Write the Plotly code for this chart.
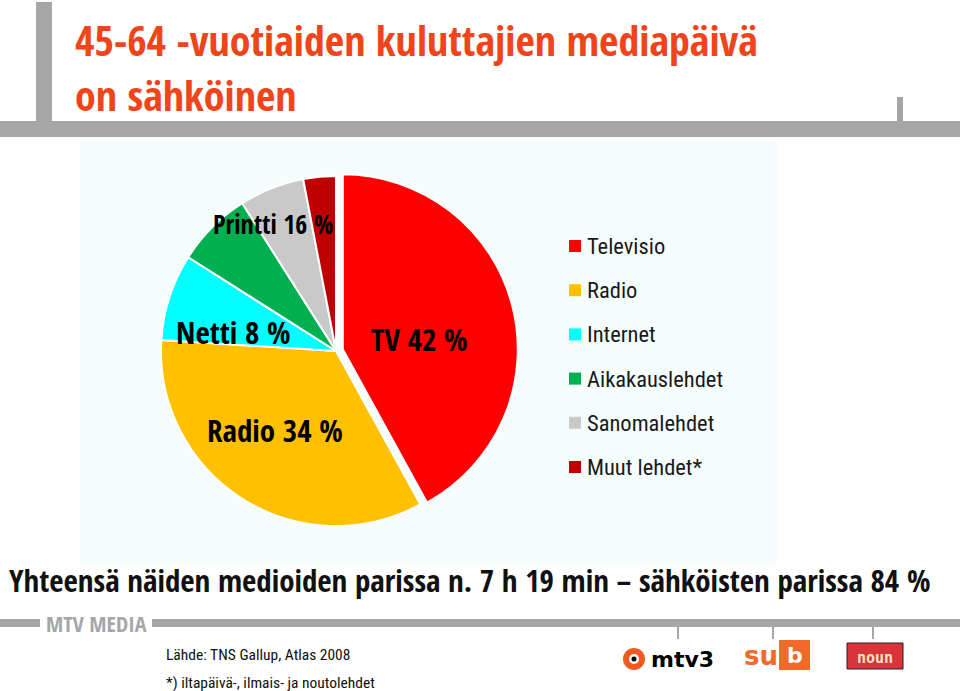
import plotly.graph_objects as go

# ---- data ----
categories = ["Televisio", "Radio", "Internet", "Aikakauslehdet", "Sanomalehdet", "Muut lehdet*"]
shares = [42, 34, 8, 7, 6, 3]
colors = ["#ff0000", "#ffc000", "#00ffff", "#00b050", "#c9c9c9", "#c00000"]
pulls = [0.04, 0, 0, 0, 0, 0]

slice_labels = ["TV 42 %", "Radio 34 %", "Netti 8 %", "Printti 16 %"]

title_lines = ["45-64 -vuotiaiden kuluttajien mediapäivä", "on sähköinen"]
summary_text = "Yhteensä näiden medioiden parissa n. 7 h 19 min – sähköisten parissa 84 %"
source_lines = ["Lähde: TNS Gallup, Atlas 2008", "*) iltapäivä-, ilmais- ja noutolehdet"]

W, H = 960, 691
BOLDC = "Open Sans Condensed, Roboto Condensed, sans-serif"
REGC = "Roboto Condensed, sans-serif"


def px(x):
    return x / W


def py(y):
    return 1 - y / H


# pie geometry (pixels)
cx, cy, r = 336, 351, 182

fig = go.Figure()
fig.add_trace(go.Pie(
    labels=categories,
    values=shares,
    marker=dict(colors=colors, line=dict(color="white", width=2)),
    pull=pulls,
    sort=False,
    direction="clockwise",
    rotation=0,
    textinfo="none",
    hoverinfo="label+percent",
    showlegend=False,
    domain=dict(x=[px(cx - r), px(cx + r)], y=[py(cy + r), py(cy - r)]),
))

shapes = []
annotations = []

# background panel
shapes.append(dict(type="rect", xref="paper", yref="paper", layer="below",
                   x0=px(80), x1=px(777), y0=py(565), y1=py(140),
                   fillcolor="#f6fdfd", line=dict(width=0)))

GRAY = "#a6a6a6"
# top frame bars
shapes.append(dict(type="rect", xref="paper", yref="paper", x0=px(36), x1=px(52), y0=py(128), y1=py(2),
                   fillcolor=GRAY, line=dict(width=0)))
shapes.append(dict(type="rect", xref="paper", yref="paper", x0=0, x1=1, y0=py(137), y1=py(121),
                   fillcolor=GRAY, line=dict(width=0)))
shapes.append(dict(type="rect", xref="paper", yref="paper", x0=px(897), x1=px(903), y0=py(121), y1=py(97),
                   fillcolor=GRAY, line=dict(width=0)))
# bottom frame line
shapes.append(dict(type="rect", xref="paper", yref="paper", x0=0, x1=px(40), y0=py(627), y1=py(619),
                   fillcolor=GRAY, line=dict(width=0)))
shapes.append(dict(type="rect", xref="paper", yref="paper", x0=px(152), x1=1, y0=py(627), y1=py(619),
                   fillcolor=GRAY, line=dict(width=0)))
for tx in [678, 773, 873]:
    shapes.append(dict(type="line", xref="paper", yref="paper", x0=px(tx), x1=px(tx), y0=py(627), y1=py(639),
                       line=dict(color=GRAY, width=2)))

# title (two lines in one text)
annotations.append(dict(text="<b>" + "<br>".join(title_lines) + "</b>", xref="paper", yref="paper",
                        x=px(73), y=py(67), xanchor="left", yanchor="middle", align="left", showarrow=False,
                        font=dict(family=BOLDC, size=42, color="#f0441a")))

# slice labels
label_pos = [(419, 339, 31), (275, 430, 31), (233, 332, 31), (273, 224, 26)]
for t, (lx, ly, fs) in zip(slice_labels, label_pos):
    annotations.append(dict(text="<b>" + t + "</b>", xref="paper", yref="paper", x=px(lx), y=py(ly),
                            xanchor="center", yanchor="middle", showarrow=False,
                            font=dict(family=BOLDC, size=fs, color="black")))

# legend (manual)
for i, (lab, col) in enumerate(zip(categories, colors)):
    yc = 246 + i * 44.2
    shapes.append(dict(type="rect", xref="paper", yref="paper", x0=px(569), x1=px(581),
                       y0=py(yc + 6), y1=py(yc - 6), fillcolor=col, line=dict(width=0)))
    annotations.append(dict(text=lab, xref="paper", yref="paper", x=px(585), y=py(yc),
                            xanchor="left", yanchor="middle", showarrow=False,
                            font=dict(family=REGC, size=22.5, color="#1a1a1a")))

# summary line
annotations.append(dict(text="<b>" + summary_text + "</b>", xref="paper", yref="paper", x=px(7), y=py(580),
                        xanchor="left", yanchor="middle", showarrow=False,
                        font=dict(family=BOLDC, size=31, color="#111111")))

# MTV MEDIA
annotations.append(dict(text="<b>MTV MEDIA</b>", xref="paper", yref="paper", x=px(96), y=py(623),
                        xanchor="center", yanchor="middle", showarrow=False,
                        font=dict(family=BOLDC, size=22, color=GRAY)))

# source notes
for i, t in enumerate(source_lines):
    annotations.append(dict(text=t, xref="paper", yref="paper", x=px(164), y=py(655 + i * 28),
                            xanchor="left", yanchor="middle", showarrow=False,
                            font=dict(family=REGC, size=15.5, color="#111111")))

# logos (approximate)
shapes.append(dict(type="circle", xref="paper", yref="paper", x0=px(623), x1=px(645), y0=py(670), y1=py(648),
                   fillcolor="#f05a1e", line=dict(width=0)))
shapes.append(dict(type="circle", xref="paper", yref="paper", x0=px(629), x1=px(639), y0=py(664), y1=py(654),
                   fillcolor="white", line=dict(width=0)))
shapes.append(dict(type="circle", xref="paper", yref="paper", x0=px(631.5), x1=px(636.5), y0=py(661.5), y1=py(656.5),
                   fillcolor="black", line=dict(width=0)))
annotations.append(dict(text="<b>mtv3</b>", xref="paper", yref="paper", x=px(649), y=py(659),
                        xanchor="left", yanchor="middle", showarrow=False,
                        font=dict(family="DejaVu Sans", size=22, color="black")))
shapes.append(dict(type="rect", xref="paper", yref="paper", x0=px(779), x1=px(810), y0=py(670), y1=py(640),
                   fillcolor="#f26a2a", line=dict(width=0)))
annotations.append(dict(text="<b>su</b>", xref="paper", yref="paper", x=px(742), y=py(656),
                        xanchor="left", yanchor="middle", showarrow=False,
                        font=dict(family="DejaVu Sans", size=26, color="#f26a2a")))
annotations.append(dict(text="<b>b</b>", xref="paper", yref="paper", x=px(794.5), y=py(655),
                        xanchor="center", yanchor="middle", showarrow=False,
                        font=dict(family="DejaVu Sans", size=22, color="white")))
shapes.append(dict(type="rect", xref="paper", yref="paper", x0=px(847), x1=px(903), y0=py(669), y1=py(643),
                   fillcolor="#d8343a", line=dict(color="#222222", width=1)))
annotations.append(dict(text="<b>noun</b>", xref="paper", yref="paper", x=px(875), y=py(658),
                        xanchor="center", yanchor="middle", showarrow=False,
                        font=dict(family="DejaVu Sans Mono", size=15, color="#f6e6c0")))

fig.update_layout(
    width=W, height=H,
    margin=dict(l=0, r=0, t=0, b=0),
    paper_bgcolor="white",
    plot_bgcolor="white",
    shapes=shapes,
    annotations=annotations,
    showlegend=False,
)

fig.write_html("out.html")
